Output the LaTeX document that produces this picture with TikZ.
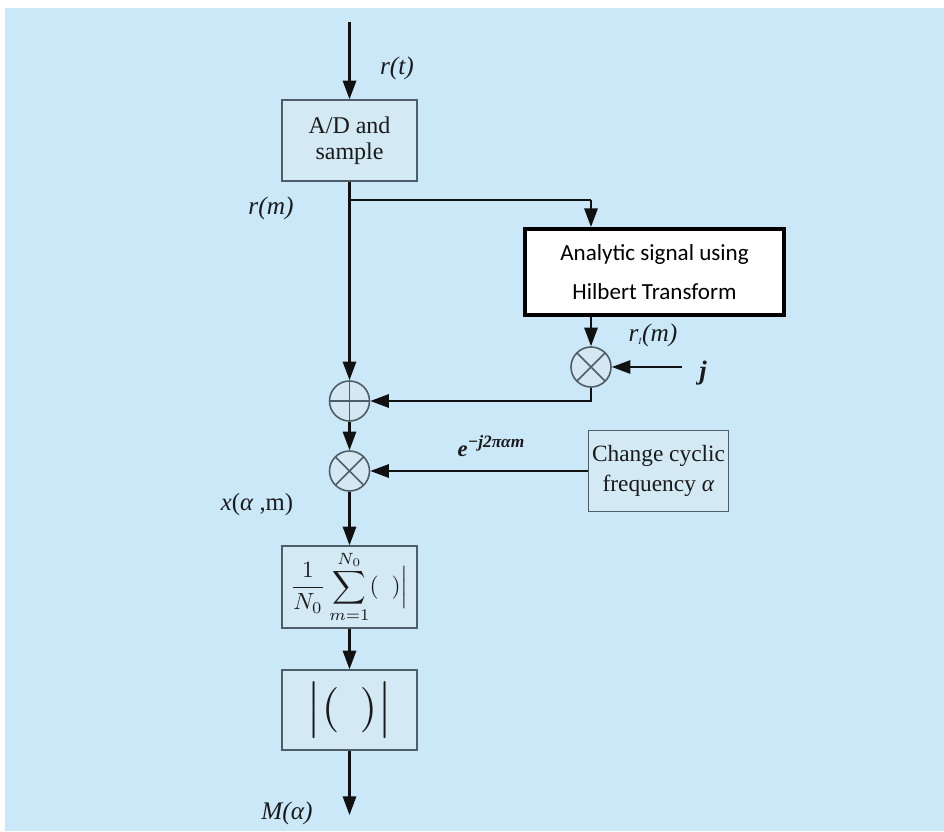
\documentclass[tikz,border=0pt]{standalone}
\usepackage{fontspec}
\usepackage{graphicx}
\setmainfont{Liberation Serif}
\newfontfamily\calib{Carlito}
\usetikzlibrary{arrows.meta}

\definecolor{bg}{HTML}{CBE8F9}
\definecolor{boxfill}{HTML}{D3E9F4}
\definecolor{boxgray}{HTML}{4E5E68}
\definecolor{circfill}{HTML}{D5E8F1}
\definecolor{linecol}{HTML}{111111}
\definecolor{txt}{HTML}{1A1A1A}

\begin{document}
\begin{tikzpicture}[x=0.75pt,y=-0.75pt,
  wire/.style={line width=1.6pt, draw=linecol},
  sig/.style={wire, -{Triangle[length=14pt,width=10pt]}},
  blk/.style={draw=boxgray, line width=1.1pt, fill=boxfill, inner sep=0pt,
    align=center, text=txt},
  lab/.style={text=txt, inner sep=0pt, font=\fontsize{19}{22}\selectfont\itshape},
  junc/.style={circle, draw=boxgray, line width=1.2pt, fill=circfill,
    minimum size=30pt, inner sep=0pt},
  mulc/.style={junc, path picture={
    \draw[boxgray, line width=1.2pt]
      (path picture bounding box.north west) -- (path picture bounding box.south east)
      (path picture bounding box.north east) -- (path picture bounding box.south west);}},
  addc/.style={junc, path picture={
    \draw[boxgray, line width=1.2pt]
      (path picture bounding box.north) -- (path picture bounding box.south)
      (path picture bounding box.east) -- (path picture bounding box.west);}}
]
% page and light-blue panel
\fill[white] (0,0) rectangle (944,831);
\fill[bg] (5,8) rectangle (944,831);

% processing blocks
\node[blk, minimum width=101pt, minimum height=60.75pt,
  font=\fontsize{18}{19.5}\selectfont] (ad) at (349.5,140.5) {A/D and\\sample};
\node[draw=black, line width=3pt, fill=white, inner sep=0pt, align=center,
  minimum width=194.5pt, minimum height=64.5pt,
  font=\calib\fontsize{17.3}{29}\selectfont] (hil) at (654.5,272) {Analytic signal using\\Hilbert Transform};
\node[blk, minimum width=105pt, minimum height=60.75pt,
  font=\fontsize{17.5}{22}\selectfont] (cyc) at (658.5,471) {Change cyclic\\frequency \textit{α}};
\node[blk, minimum width=101pt, minimum height=61.5pt] (avg) at (349.5,587)
  {\scalebox{1.75}{$\displaystyle\frac{1}{N_0}\sum\limits_{m=1}^{N_0}(\;\;)\Big|$}};
\node[blk, minimum width=101pt, minimum height=60pt] (absv) at (349.5,710)
  {\scalebox{3.4}{$\bigl|(\;\,)\bigr|$}};

% summing and mixing junctions
\node[mulc] (m1) at (591,367) {};
\node[addc] (add) at (349.5,401) {};
\node[mulc] (m2) at (349.5,471) {};

% free ends and branch points
\coordinate (in) at (349.5,22);
\coordinate (br) at (349.5,200);
\coordinate (brc) at (591,200);
\coordinate (jin) at (682,367);
\coordinate (out) at (349.5,815);

% signal flow
\draw[sig] (in) -- (ad.north);
\draw[sig] (ad.south) -- (add.north);
\draw[wire] (br) -- (brc);
\draw[sig] (brc) -- (brc |- hil.north);
\draw[sig] (m1.north |- hil.south) -- (m1.north);
\draw[sig] (jin) -- (m1.east);
\draw[sig] (m1.south) |- (add.east);
\draw[sig] (add.south) -- (m2.north);
\draw[sig] (cyc.west) -- (m2.east);
\draw[sig] (m2.south) -- (avg.north);
\draw[sig] (avg.south) -- (absv.north);
\draw[sig] (absv.south) -- (out);

% signal labels
\node[lab] (lrt) at (397,68) {r(t)};
\node[lab] (lrm) at (271,208) {r(m)};
\node[lab] (lri) at (653,335) {r\textsubscript{\scriptsize I}(m)};
\node[lab, font=\fontsize{20}{22}\selectfont\bfseries\itshape] (lj) at (703,373) {j};
\node[lab, font=\fontsize{17}{19}\selectfont\bfseries\itshape] (lexp) at (491,446)
  {e\raisebox{0.8ex}{\fontsize{13}{13}\selectfont −j2παm}};
\node[lab, font=\fontsize{18.5}{21}\selectfont] (lx) at (257,505) {\textit{x}(\textit{α} ,m)};
\node[lab] (lM) at (287,813) {M(α)};
\end{tikzpicture}
\end{document}
